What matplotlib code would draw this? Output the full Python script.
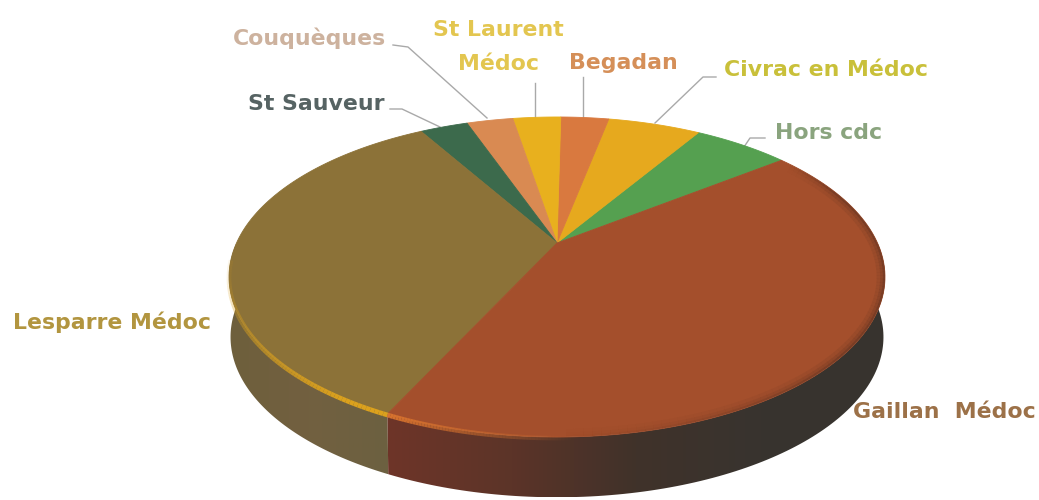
import numpy as np
import matplotlib
matplotlib.use('Agg')
import matplotlib.pyplot as plt
from matplotlib.colors import LinearSegmentedColormap
from matplotlib.patches import Polygon

plt.rcParams['font.family'] = ['DejaVu Sans']

# slices, counter clockwise from the Hors cdc / Gaillan border
names = ['Hors cdc', 'Civrac en Médoc', 'Begadan', 'St Laurent\nMédoc', 'Couquèques',
         'St Sauveur', 'Lesparre Médoc', 'Gaillan  Médoc']
values = [5.8, 5.6, 2.9, 2.9, 2.8, 2.9, 34.6, 42.5]
colors = ['#55a050', '#e6a91e', '#d9793f', '#e8b01e', '#d98a52', '#3c6a4c', '#8c7238', '#a44f2c']
label_colors = ['#8aa47e', '#c9c03a', '#d58f58', '#e3c650', '#cdb29e', '#566363', '#b2953f', '#9c7148']
label_xy = [(829, 133), (826, 70), (623, 63), (498, 47), (309, 38), (316, 104), (112, 322), (944, 412)]
leaders = [[(765, 138), (750, 138), (744, 147)],
           [(716, 77), (703, 77), (655, 123)],
           [(583, 77), (583, 118)],
           [(535, 83), (535, 118)],
           [(393, 45), (408, 47), (487, 118)],
           [(390, 109), (402, 109), (440, 127)]]

start_angle = 37.7
cx, cy = 557, 243
A, B, k = 320.5, 152.8, 0.2125
A2, B2, k2, dy2 = 319, 153, 0.2125, 60


def project(theta, a=A, b=B, kk=k, dy=0):
    u = np.cos(np.radians(theta))
    v = np.sin(np.radians(theta))
    return cx + a * u / (1 + kk * v), cy + dy - b * v / (1 + kk * v)


def wall_path(t1, t2):
    t = np.linspace(t1, t2, 120)
    x1, y1 = project(t)
    x2, y2 = project(t[::-1], A2, B2, k2, dy2)
    return np.column_stack([np.r_[x1, x2], np.r_[y1, y2]])


def gradient_wall(ax, t1, t2, stops):
    xy = wall_path(t1, t2)
    cmap = LinearSegmentedColormap.from_list('w', stops)
    grad = np.linspace(0, 1, 256).reshape(1, -1)
    im = ax.imshow(grad, cmap=cmap, aspect='auto', zorder=2,
                   extent=(xy[:, 0].min(), xy[:, 0].max(), xy[:, 1].max(), xy[:, 1].min()))
    p = Polygon(xy, closed=True, transform=ax.transData)
    im.set_clip_path(p)


fig = plt.figure(figsize=(10.39, 5.0), dpi=100)
ax = fig.add_axes([0, 0, 1, 1])

edges = start_angle + np.r_[0, np.cumsum(values)] / sum(values) * 360
split = edges[-2]

# side wall
gradient_wall(ax, 180, split, ['#6e5f3c', '#726040', '#6c6140'])
gradient_wall(ax, split, 360, ['#6e3528', '#5c3428', '#40322a', '#38342f', '#37332e'])

# top face
for i in range(len(values)):
    t = np.linspace(edges[i], edges[i + 1], 100)
    x, y = project(t)
    ax.fill(np.r_[cx, x], np.r_[cy, y], color=colors[i], lw=0.6, zorder=3)

t = np.linspace(0, 360, 360)
x, y = project(t)
top_clip = Polygon(np.column_stack([x, y]), closed=True, transform=ax.transData)

# dark fade inside the right of the Gaillan rim
t = np.linspace(270, 395, 100)
x, y = project(t)
for i in range(len(t) - 1):
    ramp = min(1, (t[i] - 270) / 50) * min(1, (395 - t[i]) / 15)
    for lw, al in zip([12, 7, 3], [0.10, 0.16, 0.28]):
        fade, = ax.plot(x[i:i + 2], y[i:i + 2], color='#4a2a1e', lw=lw, alpha=al * ramp, zorder=4,
                        solid_capstyle='butt')
        fade.set_clip_path(top_clip)

# light rim at the front
t = np.linspace(186, split, 80)
x, y = project(t)
for i in range(len(t) - 1):
    al = min(1, max(0.1, (t[i] - 186) / 50))
    ax.plot(x[i:i + 2], y[i:i + 2] + 1, color='#dba11d', lw=3.4, alpha=al, zorder=5, solid_capstyle='butt')
t = np.linspace(split, 272, 60)
x, y = project(t)
for i in range(len(t) - 1):
    al = 1 - (t[i] - split) / (272 - split)
    ax.plot(x[i:i + 2], y[i:i + 2] + 1, color='#d8732e', lw=3.4, alpha=al, zorder=5, solid_capstyle='butt')

# labels and leader lines
for line in leaders:
    xs, ys = zip(*line)
    ax.plot(xs, ys, color='#a9a9a9', lw=1.0, zorder=1)
for name, xy, c in zip(names, label_xy, label_colors):
    ax.text(xy[0], xy[1], name, color=c, fontsize=15.8, fontweight='bold', ha='center', va='center',
            linespacing=1.9, zorder=6)

ax.set_xlim(0, 1039)
ax.set_ylim(500, 0)
ax.axis('off')
fig.savefig('out.png', dpi=100)
